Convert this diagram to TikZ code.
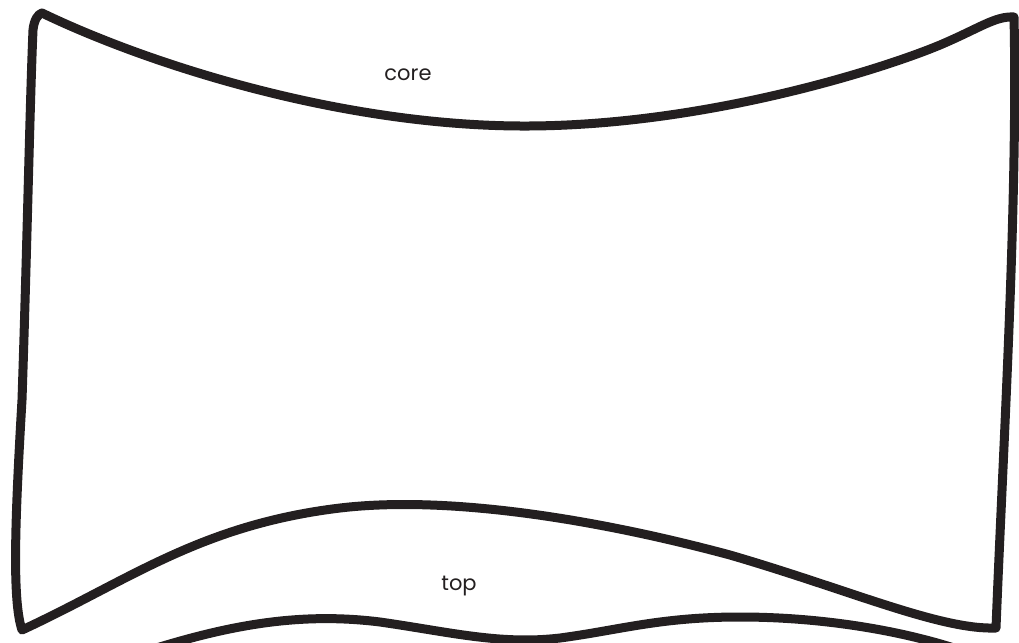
\documentclass[tikz,border=0pt]{standalone}
\usepackage{fontspec}
\setmainfont{Poppins}
\definecolor{ink}{HTML}{231F20}
\begin{document}
\begin{tikzpicture}[x=1pt,y=-1pt,
  stroke/.style={draw=ink,line width=9pt,line cap=round,line join=round},
  lbl/.style={text=ink,font=\fontsize{21}{24}\selectfont,inner sep=0pt}]
\useasboundingbox (0,0) rectangle (1019,642);
% outline
\draw[stroke] (42,13) .. controls (150,65) and (340,125) .. (520,126)
  .. controls (700,127) and (880,70) .. (940,45)
  .. controls (980,28) and (995,16) .. (1014,17)
  .. controls (1018,200) and (1003,450) .. (996,628)
  .. controls (940,630) and (850,590) .. (730,555)
  .. controls (600,520) and (450,495) .. (340,508)
  .. controls (200,525) and (130,580) .. (22,630)
  .. controls (12,600) and (15,520) .. (22,400)
  .. controls (27,250) and (30,100) .. (33,30)
  .. controls (34,20) and (38,14) .. (42,13) -- cycle;
% lower wavy line
\draw[stroke] (150,650) .. controls (230,625) and (300,612) .. (380,622)
  .. controls (450,632) and (500,645) .. (560,638)
  .. controls (620,630) and (660,617) .. (740,617)
  .. controls (820,617) and (900,630) .. (960,650);
\node[lbl] (core) at (408,75) {core};
\node[lbl] (top) at (459,586) {top};
\end{tikzpicture}
\end{document}
